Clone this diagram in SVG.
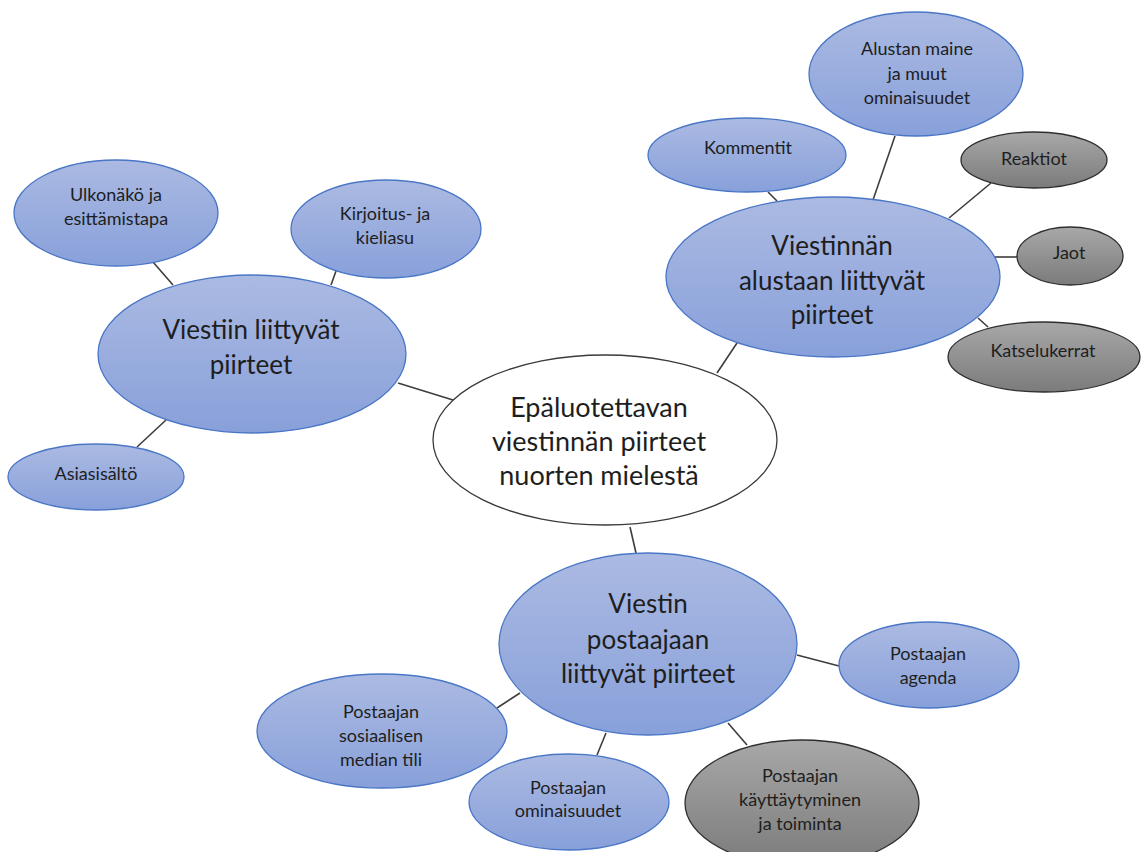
<svg xmlns="http://www.w3.org/2000/svg" width="1141" height="852" viewBox="0 0 1141 852">
  <defs>
    <linearGradient id="blueFill" x1="0" y1="0" x2="0" y2="1">
      <stop offset="0" stop-color="#abbae2"/>
      <stop offset="1" stop-color="#88a0da"/>
    </linearGradient>
    <linearGradient id="grayFill" x1="0" y1="0" x2="0" y2="1">
      <stop offset="0" stop-color="#a8a8a8"/>
      <stop offset="1" stop-color="#7b7b7b"/>
    </linearGradient>
    <style>
      .blue { fill: url(#blueFill); stroke: #4a76c6; stroke-width: 1.3; }
      .gray { fill: url(#grayFill); stroke: #2e2e2e; stroke-width: 1.3; }
      .core { fill: #ffffff; stroke: #3a3a3a; stroke-width: 1.3; }
      .edge { stroke: #3d3d3d; stroke-width: 1.6; fill: none; }
      text { font-family: Lato, "Open Sans", "Noto Sans", sans-serif; fill: #1e1e1e; text-anchor: middle; dominant-baseline: central; }
      .xl { font-size: 27px; }
      .lg { font-size: 26px; }
      .sm { font-size: 18px; }
    </style>
  </defs>
  <rect width="1141" height="852" fill="#ffffff"/>

  <!-- connectors -->
  <g id="connectors">
    <line class="edge" x1="398" y1="383" x2="453" y2="400"/>
    <line class="edge" x1="153" y1="262" x2="173" y2="285"/>
    <line class="edge" x1="336" y1="271" x2="331" y2="285"/>
    <line class="edge" x1="166" y1="420" x2="137" y2="447"/>
    <line class="edge" x1="717" y1="373" x2="737" y2="343"/>
    <line class="edge" x1="768" y1="192" x2="777" y2="201"/>
    <line class="edge" x1="895" y1="136" x2="873" y2="200"/>
    <line class="edge" x1="991" y1="183" x2="949" y2="218"/>
    <line class="edge" x1="995" y1="257" x2="1017" y2="257"/>
    <line class="edge" x1="978" y1="318" x2="988" y2="327"/>
    <line class="edge" x1="630" y1="527" x2="636" y2="553"/>
    <line class="edge" x1="797" y1="655" x2="839" y2="666"/>
    <line class="edge" x1="520" y1="693" x2="497" y2="708"/>
    <line class="edge" x1="606" y1="733" x2="597" y2="755"/>
    <line class="edge" x1="728" y1="723" x2="747" y2="745"/>
  </g>

  <!-- central topic -->
  <g id="center">
    <ellipse class="core" cx="605" cy="440" rx="172" ry="85"/>
    <text class="xl" x="599" y="406">Epäluotettavan</text>
    <text class="xl" x="599" y="440">viestinnän piirteet</text>
    <text class="xl" x="599" y="474">nuorten mielestä</text>
  </g>

  <!-- message branch -->
  <g id="viesti">
    <ellipse class="blue" cx="252" cy="354" rx="154" ry="79"/>
    <text class="lg" x="251" y="329">Viestiin liittyvät</text>
    <text class="lg" x="251" y="364">piirteet</text>
  </g>
  <g id="ulkonako">
    <ellipse class="blue" cx="116" cy="213" rx="102" ry="53"/>
    <text class="sm" x="116" y="194">Ulkonäkö ja</text>
    <text class="sm" x="116" y="218">esittämistapa</text>
  </g>
  <g id="kieliasu">
    <ellipse class="blue" cx="386" cy="229" rx="95" ry="49"/>
    <text class="sm" x="385" y="213">Kirjoitus- ja</text>
    <text class="sm" x="385" y="237">kieliasu</text>
  </g>
  <g id="asiasisalto">
    <ellipse class="blue" cx="96" cy="477" rx="88" ry="33"/>
    <text class="sm" x="96" y="473">Asiasisältö</text>
  </g>

  <!-- platform branch -->
  <g id="alusta">
    <ellipse class="blue" cx="833" cy="277" rx="167" ry="80"/>
    <text class="lg" x="832" y="245">Viestinnän</text>
    <text class="lg" x="832" y="280">alustaan liittyvät</text>
    <text class="lg" x="832" y="314">piirteet</text>
  </g>
  <g id="maine">
    <ellipse class="blue" cx="916" cy="74" rx="107" ry="62"/>
    <text class="sm" x="917" y="48">Alustan maine</text>
    <text class="sm" x="917" y="73">ja muut</text>
    <text class="sm" x="917" y="97">ominaisuudet</text>
  </g>
  <g id="kommentit">
    <ellipse class="blue" cx="747" cy="155" rx="99" ry="37"/>
    <text class="sm" x="748" y="147">Kommentit</text>
  </g>
  <g id="reaktiot">
    <ellipse class="gray" cx="1034" cy="160" rx="73" ry="28"/>
    <text class="sm" x="1034" y="158">Reaktiot</text>
  </g>
  <g id="jaot">
    <ellipse class="gray" cx="1070" cy="256" rx="53" ry="29"/>
    <text class="sm" x="1069" y="252">Jaot</text>
  </g>
  <g id="katselukerrat">
    <ellipse class="gray" cx="1044" cy="357" rx="96" ry="35"/>
    <text class="sm" x="1043" y="350">Katselukerrat</text>
  </g>

  <!-- poster branch -->
  <g id="postaaja">
    <ellipse class="blue" cx="648" cy="644" rx="149" ry="91"/>
    <text class="lg" x="648" y="603">Viestin</text>
    <text class="lg" x="648" y="639">postaajaan</text>
    <text class="lg" x="648" y="673">liittyvät piirteet</text>
  </g>
  <g id="agenda">
    <ellipse class="blue" cx="929" cy="665" rx="90" ry="43"/>
    <text class="sm" x="928" y="653">Postaajan</text>
    <text class="sm" x="928" y="677">agenda</text>
  </g>
  <g id="tili">
    <ellipse class="blue" cx="382" cy="731" rx="125" ry="57"/>
    <text class="sm" x="381" y="711">Postaajan</text>
    <text class="sm" x="381" y="735">sosiaalisen</text>
    <text class="sm" x="381" y="759">median tili</text>
  </g>
  <g id="ominaisuudet">
    <ellipse class="blue" cx="569" cy="802" rx="100" ry="48"/>
    <text class="sm" x="568" y="787">Postaajan</text>
    <text class="sm" x="568" y="810">ominaisuudet</text>
  </g>
  <g id="kayttaytyminen">
    <ellipse class="gray" cx="802" cy="803" rx="117" ry="63"/>
    <text class="sm" x="800" y="775">Postaajan</text>
    <text class="sm" x="800" y="799">käyttäytyminen</text>
    <text class="sm" x="800" y="823">ja toiminta</text>
  </g>
</svg>
